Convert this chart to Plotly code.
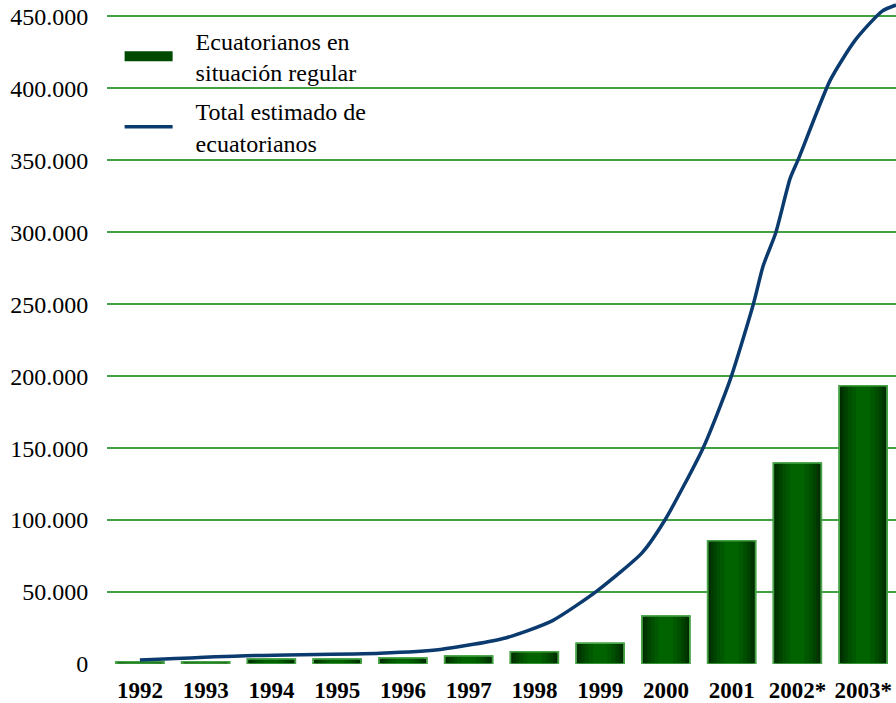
import plotly.graph_objects as go

# ---- data ----
years = [1992, 1993, 1994, 1995, 1996, 1997, 1998, 1999, 2000, 2001, 2002, 2003]
year_labels = ["1992", "1993", "1994", "1995", "1996", "1997", "1998", "1999",
               "2000", "2001", "2002*", "2003*"]
regular = [1600, 1600, 3500, 3500, 4200, 5600, 8500, 14400, 33400, 85700, 139700, 193400]

total_x = [1992.0, 1993.52, 1995.65, 1996.57, 1997.56, 1998.27, 1998.96, 1999.64,
           1999.99, 2000.57, 2000.98, 2001.33, 2001.48, 2001.67, 2001.89, 2002.02,
           2002.5, 2002.88, 2003.29, 2003.5]
total_y = [2800, 5600, 7500, 10100, 18100, 30000, 51000, 77400, 100400, 150500,
           197800, 250000, 276700, 299500, 337400, 351300, 405700, 433500, 453700, 457900]

y_ticks = [0, 50000, 100000, 150000, 200000, 250000, 300000, 350000, 400000, 450000]
y_tick_text = ["0", "50.000", "100.000", "150.000", "200.000", "250.000",
               "300.000", "350.000", "400.000", "450.000"]
grid_ticks = y_ticks[1:]

IND = "\u00a0\u00a0\u00a0"
name_bar = IND + "Ecuatorianos en<br>" + IND + "situación regular"
name_line = IND + "Total estimado de<br>" + IND + "ecuatorianos"

FONT = "'Liberation Serif', 'Times New Roman', Times, serif"
BAR_W = 0.73
Y_RANGE = [0, 460000]
# gradient layers (width fraction, colour) from outer dark to inner bright
layers = [(1.0, "#002b00"), (0.9, "#003600"), (0.78, "#004200"),
          (0.64, "#004e00"), (0.48, "#005900"), (0.3, "#006300")]

fig = go.Figure()
# legend proxy for the bars (wide rectangle symbol)
fig.add_trace(go.Scatter(
    x=[None], y=[None], mode="lines", name=name_bar, legendgroup="a",
    line=dict(color="#004a00", width=16),
))
for i, (frac, col) in enumerate(layers):
    fig.add_trace(go.Bar(
        x=years, y=regular, width=BAR_W * frac,
        marker=dict(color=col, line=dict(width=1.5 if i == 0 else 0, color="#46a446")),
        name=name_bar, showlegend=False, legendgroup="a",
        hoverinfo="skip" if i else None,
    ))
# outline on top
fig.add_trace(go.Bar(
    x=years, y=regular, width=BAR_W,
    marker=dict(color="rgba(0,0,0,0)", line=dict(width=1.5, color="#46a446")),
    showlegend=False, hoverinfo="skip",
))
fig.add_trace(go.Scatter(
    x=total_x, y=total_y, mode="lines", name=name_line, legendgroup="b",
    yaxis="y2",
    line=dict(color="#0a3a6e", width=3.5, shape="spline", smoothing=0.6),
))

fig.update_layout(
    width=896, height=703,
    margin=dict(l=107, r=0, t=2, b=39),
    barmode="overlay",
    plot_bgcolor="white", paper_bgcolor="white",
    font=dict(family=FONT, color="black", size=24),
    legend=dict(x=0.016, y=0.975, xanchor="left", yanchor="top",
                bgcolor="rgba(0,0,0,0)", font=dict(family=FONT, size=24, color="black"),
                itemwidth=48, tracegroupgap=5),
    xaxis=dict(range=[1991.5, 2003.5], tickvals=years, ticktext=year_labels,
               showgrid=False, zeroline=False, showline=False, ticks="",
               ticklabelstandoff=10,
               tickfont=dict(family=FONT, size=23, color="black", weight="bold")),
    yaxis=dict(range=Y_RANGE, tickvals=y_ticks, ticktext=y_tick_text,
               showgrid=False, zeroline=False, showline=False,
               ticks="outside", ticklen=13, tickcolor="rgba(0,0,0,0)",
               tickfont=dict(family=FONT, size=24, color="black")),
    yaxis2=dict(range=Y_RANGE, overlaying="y", tickvals=grid_ticks,
                showticklabels=False, showgrid=True, gridcolor="#44a044", gridwidth=2,
                zeroline=False, showline=False, ticks=""),
)

fig.write_html("out.html")
